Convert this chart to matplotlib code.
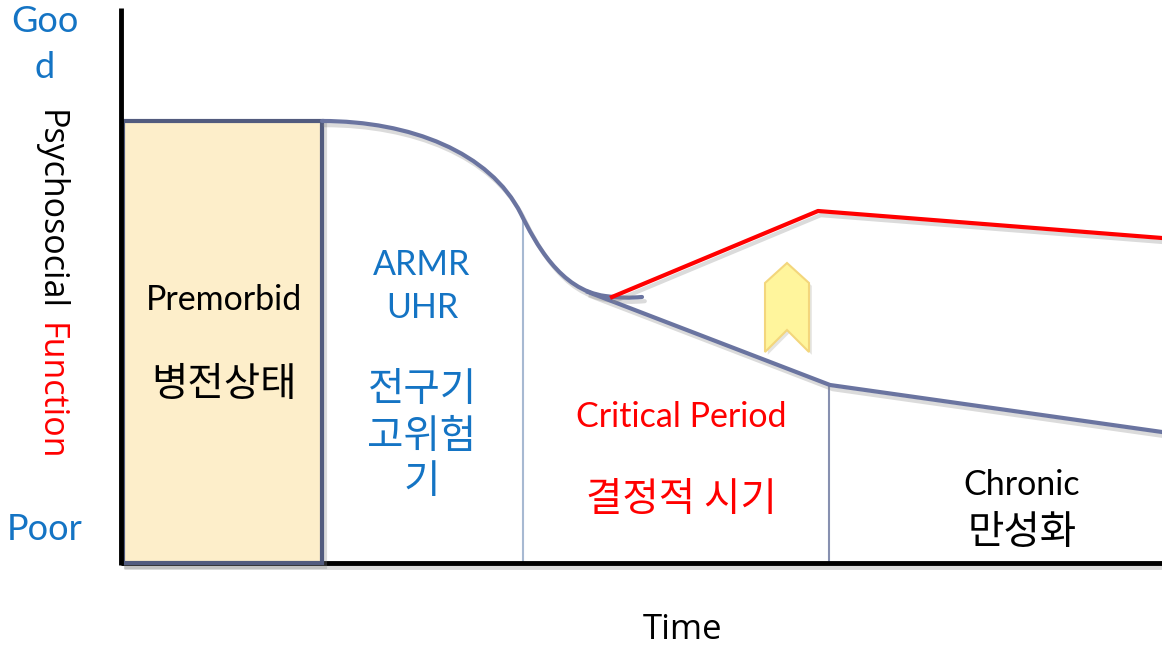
import matplotlib

matplotlib.use("Agg")
import matplotlib.pyplot as plt
import matplotlib.patheffects as pe
from matplotlib.patches import PathPatch, Polygon, Rectangle
from matplotlib.path import Path

LATIN = ["Lato", "Noto Sans CJK KR", "DejaVu Sans"]
plt.rcParams["font.family"] = LATIN

# geometry of the diagram, in picture pixels (y grows downward)
AXIS_X, AXIS_TOP, AXIS_Y, AXIS_RIGHT = 121, 8, 563, 1162
PREMORBID = (123, 121, 322)  # left, top, right

# declining course: cubic Bezier control points (drop, then the small hook)
drop_x = [322, 410, 490, 521, 535, 560, 605, 620, 630, 642]
drop_y = [121, 121, 152, 214, 242, 290, 296, 298, 298, 297]
# untreated course
decline_x = [588, 830, 1162]
decline_y = [292, 385, 432]
# course with intervention in the critical period
treated_x = [612, 818, 1162]
treated_y = [297, 211, 238]
# phase boundaries
bound_x = [523, 829]
bound_top = [216, 385]
bound_color = ["#a7b9d2", "#8790b0"]
# chevron
chev_x = [765, 765, 787, 809, 809, 787]
chev_y = [352, 283, 263, 283, 352, 330]

LINE = "#6a74a0"
BLUE = "#1474c4"
RED = "#ff0000"
shadow = [pe.SimpleLineShadow(offset=(2, -3), shadow_color="#888888", alpha=0.3),
          pe.Normal()]

fig = plt.figure(figsize=(11.62, 6.47), dpi=100)
ax = fig.add_axes([0, 0, 1, 1])
ax.set_xlim(0, 1162)
ax.set_ylim(647, 0)
ax.axis("off")

left, top, right = PREMORBID
ax.add_patch(Rectangle((left, top), right - left, AXIS_Y - top,
                       facecolor="#fdeeca", edgecolor="#525b7e", linewidth=3,
                       zorder=2, path_effects=shadow))

for bx, bt, bc in zip(bound_x, bound_top, bound_color):
    ax.plot([bx, bx], [bt, AXIS_Y], color=bc, linewidth=1.5, zorder=1)

codes = [Path.MOVETO] + [Path.CURVE4] * (len(drop_x) - 1)
ax.add_patch(PathPatch(Path(list(zip(drop_x, drop_y)), codes), facecolor="none",
                       edgecolor=LINE, linewidth=3, capstyle="round", zorder=3,
                       path_effects=shadow))
ax.plot(decline_x, decline_y, color=LINE, linewidth=3, zorder=3,
        path_effects=shadow)
ax.plot(treated_x, treated_y, color=RED, linewidth=3, zorder=4,
        path_effects=shadow)

ax.add_patch(Polygon(list(zip(chev_x, chev_y)), closed=True,
                     facecolor="#fff59c", edgecolor="#f3d67c", linewidth=1.5,
                     zorder=4, path_effects=[pe.withSimplePatchShadow(
                         offset=(2, -2), alpha=0.15)]))

# axes
ax.plot([AXIS_X, AXIS_X], [AXIS_TOP, AXIS_Y + 2], color="black", linewidth=3.5,
        zorder=5, solid_capstyle="butt")
ax.plot([AXIS_X, AXIS_RIGHT], [AXIS_Y, AXIS_Y], color="black", linewidth=3.5,
        zorder=1, solid_capstyle="butt", path_effects=shadow)

# labels
LAT, KOR = 24.5, 28.5
kw = dict(ha="center", va="center", fontsize=LAT)
kk = dict(ha="center", va="center", fontsize=KOR, fontweight="light",
          family=["Noto Sans CJK KR", "DejaVu Sans"])
ax.text(45, 22, "Goo", color=BLUE, fontsize=26, ha="center", va="center")
ax.text(45, 67, "d", color=BLUE, fontsize=26, ha="center", va="center")
ax.text(45, 530, "Poor", color=BLUE, fontsize=26, ha="center", va="center")

side = dict(rotation=-90, ha="center", va="top", fontsize=24.5,
            family=["Open Sans", "DejaVu Sans"])
t1 = ax.text(50, 110, "Psychosocial", color="black", **side)
renderer = fig.canvas.get_renderer()
bb = t1.get_window_extent(renderer).transformed(ax.transData.inverted())
ax.text(50, max(bb.y0, bb.y1) + 13, "Function", color=RED, **side)

ax.text(224, 300, "Premorbid", color="black", **kw)
ax.text(224, 385, "병전상태", color="black", **kk)

for y, s in zip([265, 308], ["ARMR", "UHR"]):
    ax.text(422, y, s, color=BLUE, **kw)
for y, s in zip([390, 437, 482], ["전구기", "고위험", "기"]):
    ax.text(422, y, s, color=BLUE, **kk)

ax.text(681, 417, "Critical Period", color=RED, **kw)
ax.text(681, 500, "결정적 시기", color=RED, **kk)

ax.text(1022, 485, "Chronic", color="black", **kw)
ax.text(1022, 533, "만성화", color="black", **kk)

ax.text(683, 630, "Time", color="black", ha="center", va="center", fontsize=25,
        family=["Open Sans", "DejaVu Sans"])

fig.savefig("out.png", dpi=100)
